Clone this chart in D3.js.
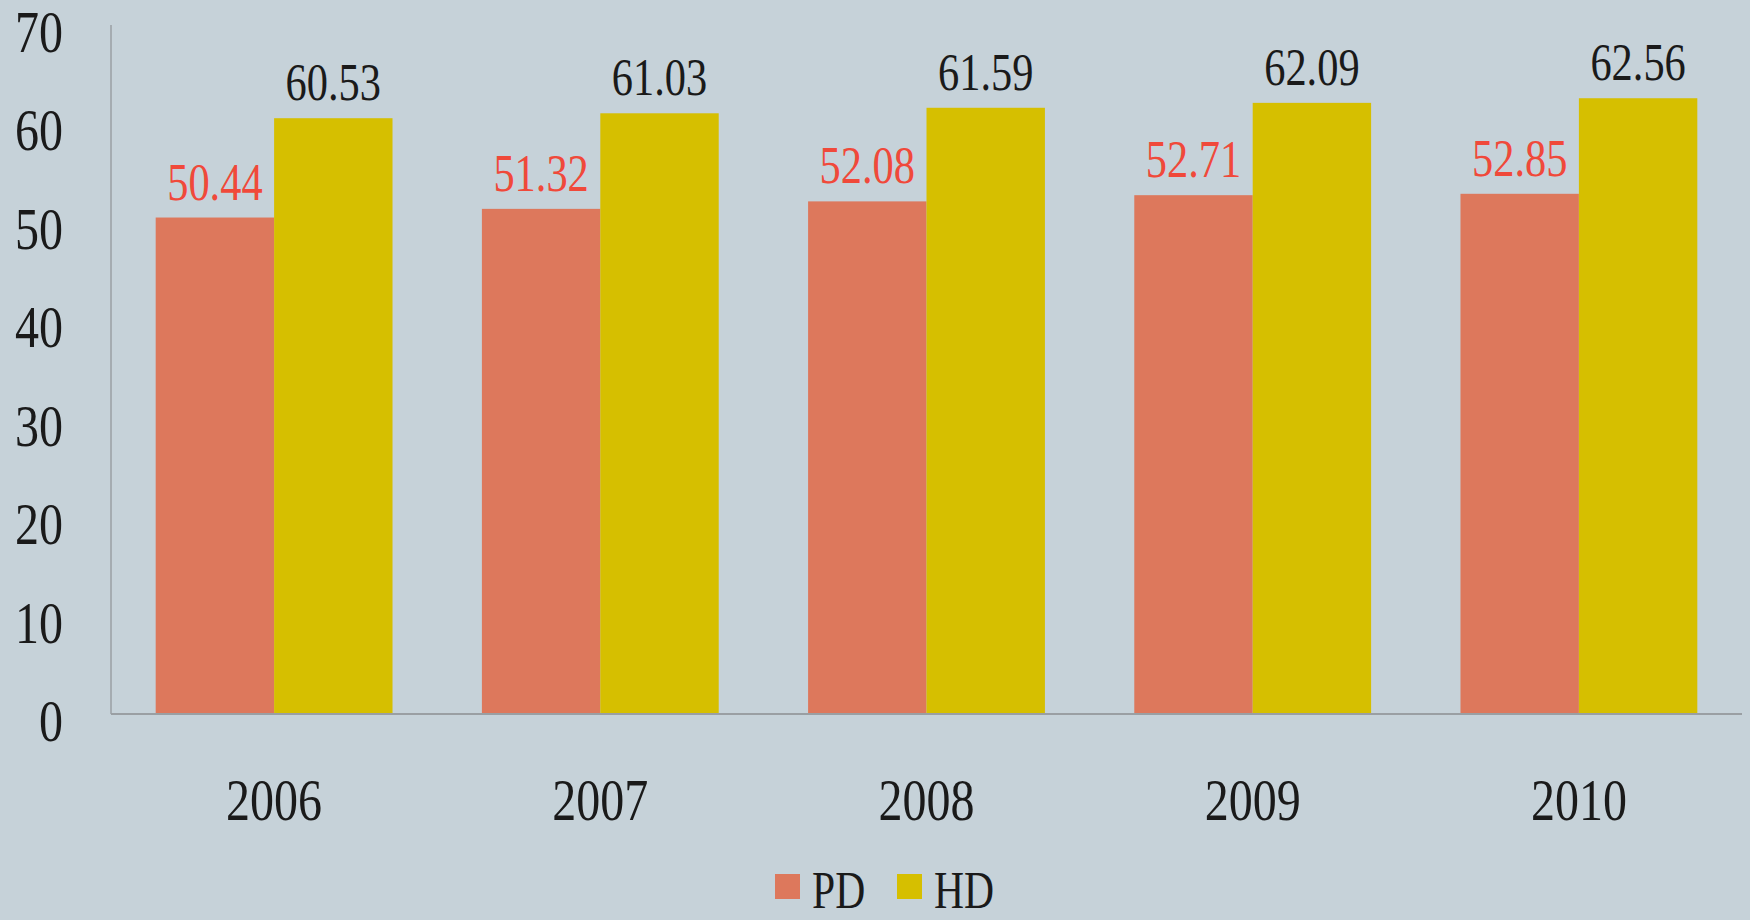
<!DOCTYPE html>
<html>
<head>
<meta charset="utf-8">
<script src="https://cdn.jsdelivr.net/npm/d3@7"></script>
<style>
  html, body { margin: 0; padding: 0; background: #c6d2d9; }
  svg { display: block; }
  text { font-family: "Liberation Serif", "Times New Roman", serif; }
</style>
</head>
<body>
<svg id="chart"></svg>
<script>
// data
var years = [ '2006', '2007', '2008', '2009', '2010' ];
var pdValues = [ 50.44, 51.32, 52.08, 52.71, 52.85 ];
var hdValues = [ 60.53, 61.03, 61.59, 62.09, 62.56 ];
var seriesNames = [ 'PD', 'HD' ];
var yTicks = [ 0, 10, 20, 30, 40, 50, 60, 70 ];

var width = 1750, height = 920;
var margin = { top: 25, right: 8, bottom: 206, left: 111 };
var colors = { PD: '#dd785c', HD: '#d6bf00' };
var labelColors = { PD: '#f0493a', HD: '#1a1a1a' };
var squeeze = 0.8; // text in the original is narrow

var svg = d3.select( '#chart' )
	.attr( 'width', width )
	.attr( 'height', height );

var x = d3.scaleBand()
	.domain( years )
	.range( [ margin.left, width - margin.right ] )
	.paddingInner( 0.274 )
	.paddingOuter( 0.137 );

var xSub = d3.scaleBand()
	.domain( seriesNames )
	.range( [ 0, x.bandwidth() ] );

var y = d3.scaleLinear()
	.domain( [ 0, 70 ] )
	.range( [ height - margin.bottom, margin.top ] );

function place( sel, px, py ) {
	return sel.attr( 'transform', 'translate(' + px + ',' + py + ') scale(' + squeeze + ',1)' );
}

// axis lines
svg.append( 'line' )
	.attr( 'x1', margin.left ).attr( 'x2', margin.left )
	.attr( 'y1', y( 70 ) ).attr( 'y2', y( 0 ) )
	.attr( 'stroke', '#9a9fa3' ).attr( 'stroke-width', 1.5 );

// y tick labels
yTicks.forEach( function ( t ) {
	place( svg.append( 'text' ), 63, y( t ) + 27 )
		.attr( 'text-anchor', 'end' )
		.attr( 'font-size', 60 )
		.attr( 'fill', '#1a1a1a' )
		.text( t );
} );

// bars
var data = [];
years.forEach( function ( yr, i ) {
	data.push( { year: yr, key: 'PD', value: pdValues[i] } );
	data.push( { year: yr, key: 'HD', value: hdValues[i] } );
} );

svg.selectAll( '.bar' )
	.data( data )
	.enter()
	.append( 'rect' )
	.attr( 'class', 'bar' )
	.attr( 'x', function ( d ) { return x( d.year ) + xSub( d.key ); } )
	.attr( 'y', function ( d ) { return y( d.value ); } )
	.attr( 'width', xSub.bandwidth() )
	.attr( 'height', function ( d ) { return y( 0 ) - y( d.value ); } )
	.attr( 'fill', function ( d ) { return colors[d.key]; } );

// value labels
data.forEach( function ( d ) {
	place( svg.append( 'text' ), x( d.year ) + xSub( d.key ) + xSub.bandwidth() / 2, y( d.value ) - 18 )
		.attr( 'text-anchor', 'middle' )
		.attr( 'font-size', 53 )
		.attr( 'fill', labelColors[d.key] )
		.text( d.value.toFixed( 2 ) );
} );

// x axis line (drawn over bars)
svg.append( 'line' )
	.attr( 'x1', margin.left ).attr( 'x2', width - margin.right )
	.attr( 'y1', y( 0 ) ).attr( 'y2', y( 0 ) )
	.attr( 'stroke', '#9a9fa3' ).attr( 'stroke-width', 2 );

// x labels
years.forEach( function ( yr ) {
	place( svg.append( 'text' ), x( yr ) + x.bandwidth() / 2, y( 0 ) + 106 )
		.attr( 'text-anchor', 'middle' )
		.attr( 'font-size', 60 )
		.attr( 'fill', '#1a1a1a' )
		.text( yr );
} );

// legend
var legendItems = [ { key: 'PD', x: 775 }, { key: 'HD', x: 897 } ];
legendItems.forEach( function ( item ) {
	svg.append( 'rect' )
		.attr( 'x', item.x ).attr( 'y', 874 )
		.attr( 'width', 25 ).attr( 'height', 25 )
		.attr( 'fill', colors[item.key] );
	place( svg.append( 'text' ), item.x + 37, 908 )
		.attr( 'font-size', 52 )
		.attr( 'fill', '#1a1a1a' )
		.text( item.key );
} );
</script>
</body>
</html>
